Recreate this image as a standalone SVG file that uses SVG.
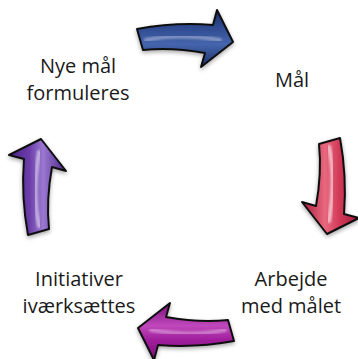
<svg xmlns="http://www.w3.org/2000/svg" xmlns:xlink="http://www.w3.org/1999/xlink" width="358" height="359" viewBox="0 0 358 359">
<style>
.t{font-family:"Open Sans","Liberation Sans",sans-serif;font-size:20px;fill:#1a1a1a;text-anchor:middle}
.arr{stroke:#111;stroke-width:2;stroke-linejoin:round}
.hl{fill:none;stroke:#fff;stroke-width:4;stroke-linecap:round;opacity:.35}
</style>
<defs>
<path id="arrow" d="M137,29 Q175,22 213,25 L217,10 L233,42 L201,67 L205,53 Q172,47 143,50 Z"/>
<path id="hline" d="M146,40 Q178,33 220,40"/>
<filter id="sh" x="-20%" y="-20%" width="140%" height="140%">
<feGaussianBlur in="SourceAlpha" stdDeviation="2"/>
<feOffset dx="0" dy="2" result="b"/>
<feComponentTransfer><feFuncA type="linear" slope="0.35"/></feComponentTransfer>
<feMerge><feMergeNode/><feMergeNode in="SourceGraphic"/></feMerge>
</filter>
<filter id="bl"><feGaussianBlur stdDeviation="1.2"/></filter>
<linearGradient id="gBlue" x1="0" y1="0" x2="0" y2="1">
<stop offset="0" stop-color="#1c2f68"/><stop offset="0.3" stop-color="#2e4a8f"/><stop offset="0.6" stop-color="#4565ad"/><stop offset="1" stop-color="#1c2f68"/>
</linearGradient>
<linearGradient id="gRed" x1="0" y1="0" x2="0" y2="1">
<stop offset="0" stop-color="#a8193a"/><stop offset="0.35" stop-color="#d23a58"/><stop offset="0.6" stop-color="#e8687e"/><stop offset="1" stop-color="#a8193a"/>
</linearGradient>
<linearGradient id="gMag" x1="0" y1="0" x2="0" y2="1">
<stop offset="0" stop-color="#7a0f7a"/><stop offset="0.35" stop-color="#a01e9c"/><stop offset="0.6" stop-color="#c048bc"/><stop offset="1" stop-color="#7a0f7a"/>
</linearGradient>
<linearGradient id="gPur" x1="0" y1="0" x2="0" y2="1">
<stop offset="0" stop-color="#4a2588"/><stop offset="0.35" stop-color="#6a3ca8"/><stop offset="0.6" stop-color="#9a78d0"/><stop offset="1" stop-color="#4a2588"/>
</linearGradient>
</defs>
<rect width="358" height="359" fill="#fff"/>
<g id="connectors">
<g id="arrow-blue" filter="url(#sh)">
<use xlink:href="#arrow" class="arr" fill="url(#gBlue)"/>
<use xlink:href="#hline" class="hl" filter="url(#bl)"/>
</g>
<g id="arrow-red" filter="url(#sh)">
<g transform="rotate(90 184 185)">
<use xlink:href="#arrow" class="arr" fill="url(#gRed)"/>
<use xlink:href="#hline" class="hl" style="opacity:.6" filter="url(#bl)"/>
</g>
</g>
<g id="arrow-magenta" filter="url(#sh)">
<g transform="rotate(180 185.5 185)">
<use xlink:href="#arrow" class="arr" fill="url(#gMag)"/>
<use xlink:href="#hline" class="hl" filter="url(#bl)"/>
</g>
</g>
<g id="arrow-purple" filter="url(#sh)">
<g transform="translate(0 3) rotate(270 184 185)">
<use xlink:href="#arrow" class="arr" fill="url(#gPur)"/>
<use xlink:href="#hline" class="hl" style="opacity:.5" filter="url(#bl)"/>
</g>
</g>
</g>
<g id="node-nye">
<text class="t" x="78" y="73">Nye mål</text>
<text class="t" x="78" y="100">formuleres</text>
</g>
<g id="node-maal">
<text class="t" x="292" y="87">Mål</text>
</g>
<g id="node-arbejde">
<text class="t" x="291" y="286">Arbejde</text>
<text class="t" x="291" y="313">med målet</text>
</g>
<g id="node-initiativer">
<text class="t" x="79" y="286">Initiativer</text>
<text class="t" x="79" y="313">iværksættes</text>
</g>
</svg>
